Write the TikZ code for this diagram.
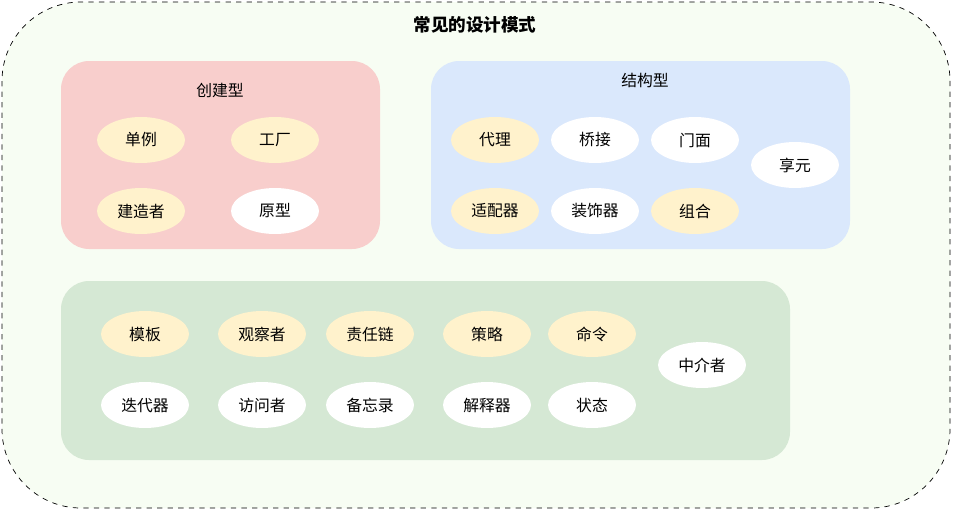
\documentclass[tikz,border=0pt]{standalone}
\usepackage{fontspec}
\setmainfont{Noto Sans CJK SC}
\usetikzlibrary{shapes.geometric}
\definecolor{pinkbg}{HTML}{F8CECC}
\definecolor{bluebg}{HTML}{DAE8FC}
\definecolor{greenbg}{HTML}{D5E8D4}
\definecolor{yellowfill}{HTML}{FFF2CC}
\definecolor{outerbg}{HTML}{F7FDF3}
\begin{document}
\begin{tikzpicture}[x=0.02cm, y=-0.02cm,
    group/.style ={draw=none, rounded corners=16pt},
    pattern/.style ={ellipse, draw=none, minimum width=1.76cm, minimum height=0.92cm, inner sep=0pt, font=\small},
    hot/.style ={pattern, fill=yellowfill},
    cold/.style ={pattern, fill=white}]
   \useasboundingbox (0,0) rectangle (966,511);
   \draw[dashed, fill=outerbg, rounded corners=45pt] (2,2) rectangle (950,508);
   \node (title) at (475,25) {\bfseries 常见的设计模式};

   \fill[group, pinkbg] (61,61) rectangle (380,249);
   \node (creational) at (220,90) {\small 创建型};
   \node[hot]  (singleton) at (141,140) {单例};
   \node[hot]  (factory)   at (275,140) {工厂};
   \node[hot]  (builder)   at (141,211) {建造者};
   \node[cold] (prototype) at (275,211) {原型};

   \fill[group, bluebg] (431,61) rectangle (850,249);
   \node (structural) at (645,80) {\small 结构型};
   \node[hot]  (proxy)     at (495,140) {代理};
   \node[cold] (bridge)    at (595,140) {桥接};
   \node[cold] (facade)    at (695,140) {门面};
   \node[cold] (flyweight) at (795,165) {享元};
   \node[hot]  (adapter)   at (495,211) {适配器};
   \node[cold] (decorator) at (595,211) {装饰器};
   \node[hot]  (composite) at (695,211) {组合};

   \fill[group, greenbg] (61,281) rectangle (790,460);
   \node[hot]  (template)    at (145,334) {模板};
   \node[hot]  (observer)    at (262,334) {观察者};
   \node[hot]  (chain)       at (370,334) {责任链};
   \node[hot]  (strategy)    at (487,334) {策略};
   \node[hot]  (command)     at (592,334) {命令};
   \node[cold] (iterator)    at (145,405) {迭代器};
   \node[cold] (visitor)     at (262,405) {访问者};
   \node[cold] (memento)     at (370,405) {备忘录};
   \node[cold] (interpreter) at (487,405) {解释器};
   \node[cold] (state)       at (592,405) {状态};
   \node[cold] (mediator)    at (702,365) {中介者};
 \end{tikzpicture}
\end{document}
